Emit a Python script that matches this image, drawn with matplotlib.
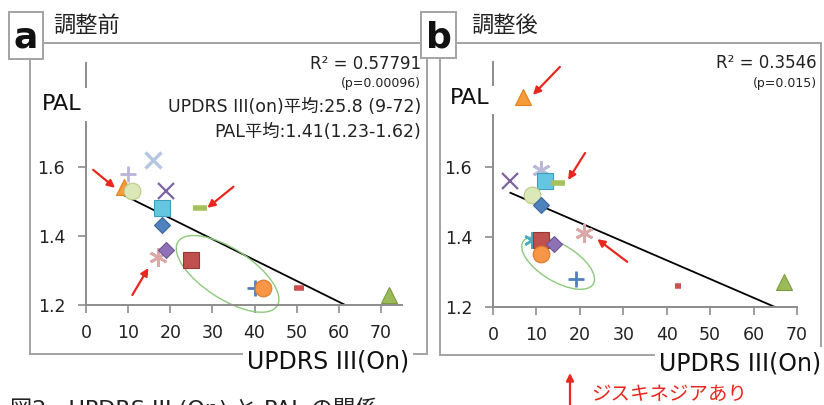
import numpy as np
import matplotlib
matplotlib.use('Agg')
import matplotlib.pyplot as plt
from matplotlib.patches import Ellipse, Rectangle, FancyArrowPatch
from matplotlib.lines import Line2D
from matplotlib.transforms import ScaledTranslation

plt.rcParams['font.family'] = ['DejaVu Sans', 'Noto Sans CJK JP']

# --- data ---
# panel a (before adjustment)
a_x = [10, 16, 9, 11, 19, 27, 18, 18, 17, 19, 25, 40, 42, 50.5, 72]
a_y = [1.58, 1.62, 1.54, 1.53, 1.53, 1.48, 1.48, 1.43, 1.34, 1.36, 1.33, 1.25, 1.25, 1.25, 1.23]
a_kind = ['lav_plus', 'lblue_x', 'orange_tri', 'lgreen_circ', 'purple_x', 'green_dash',
          'cyan_sq', 'blue_dia', 'pink_ast', 'purple_dia', 'red_sq', 'blue_plus',
          'orange_circ', 'red_dash', 'green_tri']
a_notes = ['R² = 0.57791', '(p=0.00096)', 'UPDRS III(on)平均:25.8 (9-72)', 'PAL平均:1.41(1.23-1.62)']

# panel b (after adjustment)
b_x = [4, 11, 12, 15, 9, 11, 21, 9, 11, 14, 11, 19, 7, 42.5, 67]
b_y = [1.56, 1.59, 1.56, 1.555, 1.52, 1.49, 1.41, 1.39, 1.39, 1.38, 1.35, 1.28, 1.80, 1.26, 1.27]
b_kind = ['purple_x', 'lav_ast', 'cyan_sq', 'green_dash', 'lgreen_circ', 'blue_dia',
          'pink_ast', 'cyan_ast', 'red_sq', 'purple_dia', 'orange_circ', 'blue_plus',
          'orange_tri', 'red_dot', 'green_tri']
b_notes = ['R² = 0.3546', '(p=0.015)']

x_ticks = [0, 10, 20, 30, 40, 50, 60, 70]
y_ticks = [1.2, 1.4, 1.6]

# marker looks (marker, size, face, edge, edge width)
STYLE = {
    'lav_plus':    ('+', 11, '#bdb2d8', '#bdb2d8', 2.0),
    'lblue_x':     ('x', 12, '#b4c6e2', '#b4c6e2', 2.4),
    'orange_tri':  ('^', 11, '#f79a3a', '#e07f1f', 0.8),
    'lgreen_circ': ('o', 12, '#dde8b8', '#b9ca85', 0.8),
    'purple_x':    ('x', 11, '#7d64a0', '#7d64a0', 1.6),
    'green_dash':  ('_', 10, '#a5c25f', '#a5c25f', 4.0),
    'cyan_sq':     ('s', 11, '#66c6e2', '#3c9fbf', 0.8),
    'blue_dia':    ('D', 8, '#4f81bd', '#3a679e', 0.8),
    'purple_dia':  ('D', 8, '#8e72b5', '#6f5595', 0.8),
    'pink_ast':    ((6, 2, 0), 13, '#dba8a8', '#dba8a8', 2.0),
    'lav_ast':     ((6, 2, 0), 13, '#b9bad8', '#b9bad8', 2.0),
    'cyan_ast':    ((6, 2, 0), 12, '#4bacc6', '#4bacc6', 1.8),
    'red_sq':      ('s', 11, '#c0504d', '#9b3633', 0.8),
    'blue_plus':   ('+', 12, '#4f81bd', '#4f81bd', 2.0),
    'orange_circ': ('o', 12, '#f79646', '#d97a2a', 0.8),
    'red_dash':    ('_', 7, '#d0504d', '#d0504d', 4.0),
    'red_dot':     ('_', 5, '#d0504d', '#d0504d', 4.0),
    'green_tri':   ('^', 12, '#9bbb59', '#7c9a3e', 0.8),
}

W, H = 824, 405
GRAY = '#a3a3a3'
AXG = '#8c8c8c'
RED = '#e8281e'
ELL = '#8cc97a'


def fx(x):
    return x / W


def fy(y):
    return 1 - y / H


fig = plt.figure(figsize=(W / 100, H / 100), dpi=100)


def seg(x0, y0, x1, y1, color=GRAY, lw=1.4):
    fig.add_artist(Line2D([fx(x0), fx(x1)], [fy(y0), fy(y1)], color=color, lw=lw,
                          transform=fig.transFigure, zorder=1))


def box_label(x0, y0, x1, y1, letter):
    fig.add_artist(Rectangle((fx(x0), fy(y1)), fx(x1) - fx(x0), fy(y0) - fy(y1),
                             transform=fig.transFigure, facecolor='white',
                             edgecolor=GRAY, lw=1.4, zorder=3))
    fig.text(fx((x0 + x1) / 2), fy((y0 + y1) / 2 + 2), letter, ha='center', va='center',
             fontsize=26, fontweight='bold', color='#111111', zorder=4)


def panel(rect, xs, ys, kinds, xmax, gap, ell, arrows):
    ax = fig.add_axes(rect)
    ax.set_xlim(0, xmax)
    ax.set_ylim(1.2, 1.9)
    ax.set_xticks(x_ticks)
    ax.set_yticks(y_ticks)
    ax.set_yticklabels(['%.1f' % v for v in y_ticks])
    for s in ['top', 'right', 'left']:
        ax.spines[s].set_visible(False)
    ax.spines['bottom'].set_color(AXG)
    ax.spines['bottom'].set_linewidth(1.4)
    # y axis broken where the PAL label sits
    ax.plot([0, 0], [0, gap[0]], transform=ax.transAxes, color=AXG, lw=1.4, clip_on=False)
    ax.plot([0, 0], [gap[1], 1], transform=ax.transAxes, color=AXG, lw=1.4, clip_on=False)
    ax.tick_params(colors=AXG, labelcolor='#222222', labelsize=12.5, length=6, width=1.2)
    ax.tick_params(axis='y', pad=9)
    ax.tick_params(axis='x', pad=8)
    ax.patch.set_alpha(0)

    # Excel style linear trendline
    k, b = np.polyfit(xs, ys, 1)
    tx = np.array([min(xs), max(xs)])
    ax.plot(tx, k * tx + b, color='black', lw=1.3, zorder=2)

    for x, y, kind in zip(xs, ys, kinds):
        m, ms, fc, ec, mew = STYLE[kind]
        ax.plot([x], [y], linestyle='none', marker=m, markersize=ms, markerfacecolor=fc,
                markeredgecolor=ec, markeredgewidth=mew, clip_on=False, zorder=3)

    (cx, cy), w, h, ang = ell
    tr = fig.dpi_scale_trans + ScaledTranslation(cx, cy, ax.transData)
    ax.add_patch(Ellipse((0, 0), w, h, angle=ang, transform=tr, fill=False,
                         edgecolor=ELL, lw=1.0, zorder=2, clip_on=False))

    for (sx, sy), (ex, ey) in arrows:
        ax.annotate('', xy=(ex, ey), xytext=(sx, sy),
                    arrowprops=dict(arrowstyle='-|>', color=RED, lw=1.6,
                                    mutation_scale=11, shrinkA=0, shrinkB=0),
                    annotation_clip=False)
    return ax


# panel frames
seg(43, 43, 421, 43)
seg(30, 59, 30, 354)
seg(427, 59, 427, 354)
seg(30, 354, 427, 354)
seg(456, 43, 821, 43)
seg(440, 59, 440, 355)
seg(821, 43, 821, 355)
seg(440, 355, 821, 355)

a_arrows = [((1.7, 1.591), (6.9, 1.539)), ((35.0, 1.542), (28.8, 1.481)),
            ((11.0, 1.229), (14.8, 1.307))]
b_arrows = [((15.4, 1.886), (9.2, 1.806)), ((21.2, 1.64), (17.3, 1.563)),
            ((30.9, 1.329), (24.0, 1.394))]

panel([fx(86), fy(305), (402 - 86) / W, (305 - 63) / H], a_x, a_y, a_kind, 75,
      (0.757, 0.901), ((33.6, 1.29), 1.18, 0.50, -33), a_arrows)
panel([fx(493), fy(307), (797 - 493) / W, (307 - 62) / H], b_x, b_y, b_kind, 70,
      (0.784, 0.906), ((15.0, 1.326), 0.82, 0.37, -31), b_arrows)

# labels
fig.text(fx(62), fy(104), 'PAL', ha='center', va='center', fontsize=16, color='#111111')
fig.text(fx(470), fy(98), 'PAL', ha='center', va='center', fontsize=16, color='#111111')
bb = dict(facecolor='white', edgecolor='none', pad=3)
fig.text(fx(409), fy(368), 'UPDRS III(On)', ha='right', va='baseline', fontsize=17,
         color='#111111', bbox=bb, zorder=5)
fig.text(fx(821), fy(370), 'UPDRS III(On)', ha='right', va='baseline', fontsize=17,
         color='#111111', bbox=bb, zorder=5)

# statistics notes
note_y = [64, 83, 107, 132]
note_size = [12, 9, 12.5, 12.5]
for t, y, s in zip(a_notes, note_y, note_size):
    fig.text(fx(421), fy(y), t, ha='right', va='center', fontsize=s, color='#222222')
for t, y, s in zip(b_notes, [63, 83], [12, 9]):
    fig.text(fx(817), fy(y), t, ha='right', va='center', fontsize=s, color='#222222')

# panel headers
box_label(9, 12, 43, 59, 'a')
box_label(421, 12, 456, 58, 'b')
fig.text(fx(53), fy(25), '調整前', ha='left', va='center', fontsize=16, color='#222222')
fig.text(fx(471), fy(25), '調整後', ha='left', va='center', fontsize=16, color='#222222')

# caption, cut off at the bottom edge as in the source
fig.text(fx(10), fy(398), '図2　UPDRS III (On) と PAL の関係', ha='left', va='top',
         fontsize=16, color='#222222')

# dyskinesia note
fig.add_artist(FancyArrowPatch(
    (fx(570), fy(406)), (fx(570), fy(373)), transform=fig.transFigure,
    arrowstyle='-|>', color=RED, lw=1.6, mutation_scale=11, shrinkA=0, shrinkB=0))
fig.text(fx(591), fy(394), 'ジスキネジアあり', ha='left', va='center', fontsize=14, color=RED)

fig.savefig('out.png', dpi=100)
